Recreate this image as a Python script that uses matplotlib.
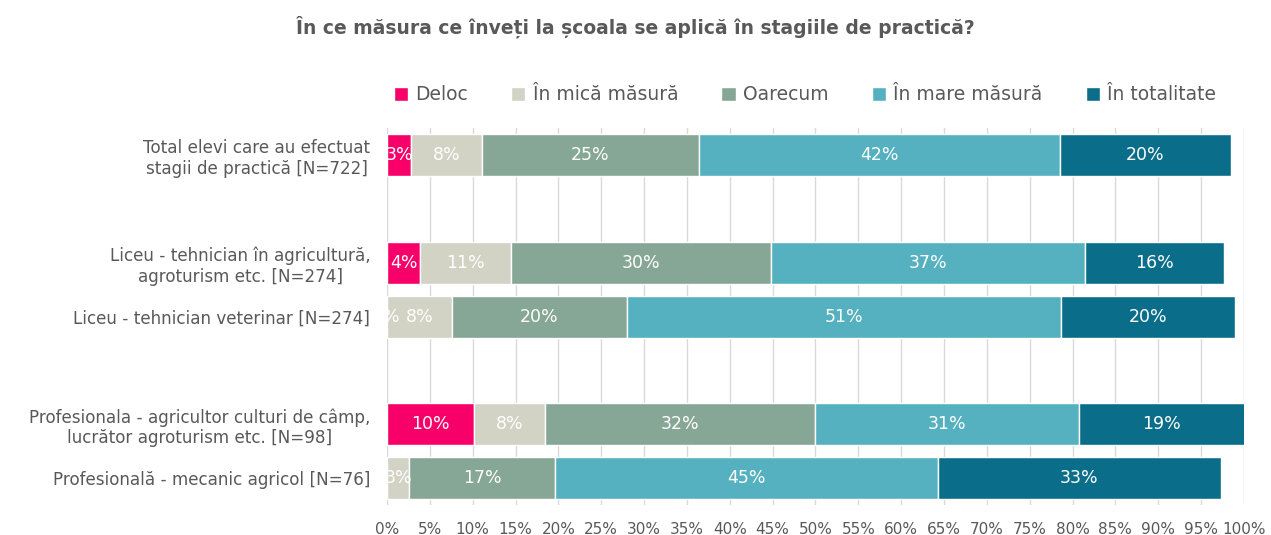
import matplotlib
matplotlib.use("Agg")
import matplotlib.pyplot as plt
import numpy as np

# Survey groups (top to bottom) and their answer shares, in percent
groups = [
    "Total elevi care au efectuat\nstagii de practică [N=722]",
    "Liceu - tehnician în agricultură,\nagroturism etc. [N=274]",
    "Liceu - tehnician veterinar [N=274]",
    "Profesionala - agricultor culturi de câmp,\nlucrător agroturism etc. [N=98]",
    "Profesională - mecanic agricol [N=76]",
]
positions = [0, 2, 3, 5, 6]

answers = ["Deloc", "În mică măsură", "Oarecum", "În mare măsură", "În totalitate"]
deloc = [2.8, 3.9, 0.0, 10.2, 0.0]
mica = [8.3, 10.6, 7.6, 8.2, 2.6]
oarecum = [25.3, 30.3, 20.4, 31.6, 17.0]
mare = [42.1, 36.6, 50.6, 30.7, 44.7]
totalitate = [20.0, 16.3, 20.4, 19.4, 33.0]
series = [deloc, mica, oarecum, mare, totalitate]

colors = ["#F8006A", "#D2D3C5", "#86A795", "#55B1C0", "#0A6E8A"]
text_grey = "#595959"

fig = plt.figure(figsize=(12.71, 5.35), dpi=100)
ax = fig.add_axes([0.3045, 0.056, 0.9787 - 0.3045, 0.7607 - 0.056])

left = np.zeros(len(groups))
for name, vals, col in zip(answers, series, colors):
    vals = np.array(vals)
    ax.barh(positions, vals, left=left, height=0.78, color=col,
            edgecolor="white", linewidth=1.0, label=name, zorder=3)
    for y, l, v in zip(positions, left, vals):
        # labels for visible segments, plus the 0 % deloc share of the vet group
        if v >= 0.5 or (name == "Deloc" and y == 3):
            ax.text(l + v / 2, y, f"{round(v):d}%", ha="center", va="center",
                    color="white", fontsize=12.5, zorder=4)
    left += vals

ax.set_xlim(0, 100)
ax.set_ylim(6.5, -0.5)
ax.set_xticks(np.arange(0, 101, 5))
ax.set_xticklabels([f"{t}%" for t in range(0, 101, 5)], color=text_grey, fontsize=11)
ax.set_yticks(positions)
ax.set_yticklabels(groups, color=text_grey, fontsize=12.1, multialignment="center")
ax.tick_params(axis="both", length=0)
ax.tick_params(axis="x", pad=12)
ax.tick_params(axis="y", pad=12)
ax.grid(axis="x", color="#D9D9D9", linewidth=1.0, zorder=0)
for s in ax.spines.values():
    s.set_visible(False)

fig.text(0.5, 1 - 27 / 535, "În ce măsura ce înveți la școala se aplică în stagiile de practică?",
         ha="center", va="center", fontsize=13.5, fontweight="bold", color=text_grey)

leg = fig.legend(loc="center", bbox_to_anchor=(805 / 1271, 1 - 95 / 535), ncol=5,
                 frameon=False, fontsize=13.5, handlelength=0.75, handleheight=0.75,
                 handletextpad=0.4, columnspacing=2.3)
for t in leg.get_texts():
    t.set_color(text_grey)

fig.savefig("out.png", dpi=100)
